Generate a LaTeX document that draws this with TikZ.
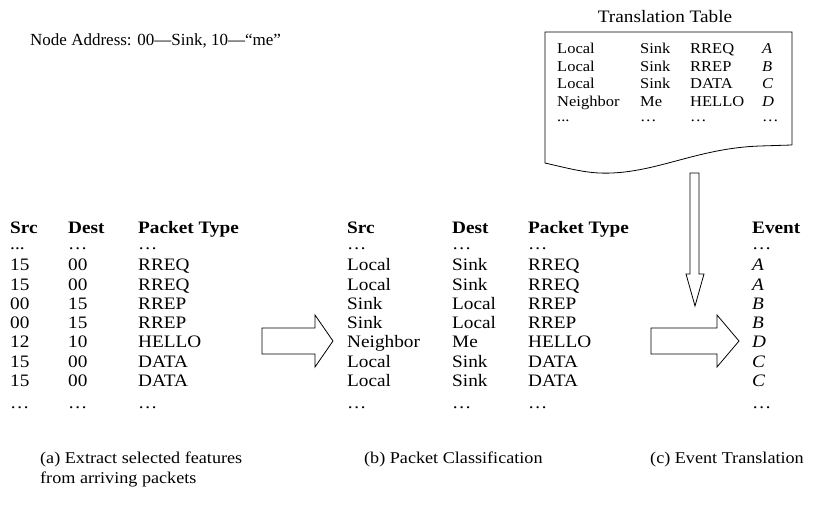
\documentclass[tikz,border=0pt]{standalone}
\usepackage{fontspec}
\setmainfont{Liberation Serif}
\newfontfamily\wideserif[FakeStretch=1.1]{Liberation Serif}
\usetikzlibrary{positioning}
\newcommand\colorFrame{black}
\newcommand\rowDist{19.2}
\newcommand\rowTop{271}
\newcommand\ttRowDist{17.4}
\newcommand\ttRowTop{54}
\tikzset{
	cell/.style={anchor=base west, inner sep=0pt, font=\wideserif\fontsize{17.5}{19}\selectfont},
	head/.style={cell, font=\wideserif\fontsize{17.5}{19}\selectfont\bfseries},
	ttcell/.style={anchor=base west, inner sep=0pt, font=\wideserif\fontsize{15}{17}\selectfont},
	caption/.style={anchor=base west, inner sep=0pt, align=left, font=\wideserif\fontsize{16.5}{20}\selectfont},
	blockarrow/.style={draw=\colorFrame, line width=0.8pt, fill=white, line join=miter}
}

\begin{document}
\begin{tikzpicture}[x=1pt, y=-1pt]
	\useasboundingbox (0,0) rectangle (816,510);

	% header note and translation table
	\node[anchor=base west, inner sep=0pt, font=\fontsize{17}{19}\selectfont] (addr) at (30,46)
		{Node Address: 00—Sink, 10—“me”};
	\node[cell, anchor=base] (tttitle) at (665,23) {Translation Table};
	\draw[color=\colorFrame, line width=0.8pt]
		(792,145) -- (792,32) -- (545,32) -- (545,163)
		.. controls (575,170) and (590,174) .. (612,173)
		.. controls (660,171) and (700,148) .. (760,146) -- (792,145);
	\foreach \src/\dst/\typ/\ev [count=\i from 0] in
		{Local/Sink/RREQ/A, Local/Sink/RREP/B, Local/Sink/DATA/C, Neighbor/Me/HELLO/D}{
		\node[ttcell] (tts\i) at (557,\ttRowTop+\i*\ttRowDist) {\src};
		\node[ttcell] (ttd\i) at (640,\ttRowTop+\i*\ttRowDist) {\dst};
		\node[ttcell] (ttp\i) at (690,\ttRowTop+\i*\ttRowDist) {\typ};
		\node[ttcell] (tte\i) at (762,\ttRowTop+\i*\ttRowDist) {\textit{\ev}};
	}
	\node[ttcell] (tts4) at (557,122) {...};
	\node[ttcell] (ttd4) at (640,122) {…};
	\node[ttcell] (ttp4) at (690,122) {…};
	\node[ttcell] (tte4) at (762,122) {…};

	% (a) raw packets
	\node[head] (srcA) at (10,234) {Src};
	\node[head] (dstA) at (68,234) {Dest};
	\node[head] (typA) at (138,234) {Packet Type};
	\node[cell] (a0) at (10,250) {...};
	\node[cell] at (68,250) {…};
	\node[cell] at (138,250) {…};
	\foreach \src/\dst/\typ [count=\i from 0] in
		{15/00/RREQ, 15/00/RREQ, 00/15/RREP, 00/15/RREP, 12/10/HELLO, 15/00/DATA, 15/00/DATA}{
		\node[cell] (as\i) at (10,\rowTop+\i*\rowDist) {\src};
		\node[cell] (ad\i) at (68,\rowTop+\i*\rowDist) {\dst};
		\node[cell] (ap\i) at (138,\rowTop+\i*\rowDist) {\typ};
	}
	\node[cell] (a8) at (10,408) {…};
	\node[cell] at (68,408) {…};
	\node[cell] at (138,408) {…};

	% (b) classified packets
	\node[head] (srcB) at (347,234) {Src};
	\node[head] (dstB) at (452,234) {Dest};
	\node[head] (typB) at (528,234) {Packet Type};
	\node[cell] (b0) at (347,250) {…};
	\node[cell] at (452,250) {…};
	\node[cell] at (528,250) {…};
	\foreach \src/\dst/\typ [count=\i from 0] in
		{Local/Sink/RREQ, Local/Sink/RREQ, Sink/Local/RREP, Sink/Local/RREP,
		 Neighbor/Me/HELLO, Local/Sink/DATA, Local/Sink/DATA}{
		\node[cell] (bs\i) at (347,\rowTop+\i*\rowDist) {\src};
		\node[cell] (bd\i) at (452,\rowTop+\i*\rowDist) {\dst};
		\node[cell] (bp\i) at (528,\rowTop+\i*\rowDist) {\typ};
	}
	\node[cell] (b8) at (347,408) {…};
	\node[cell] at (452,408) {…};
	\node[cell] at (528,408) {…};

	% (c) events
	\node[head] (evC) at (752,234) {Event};
	\node[cell] (c0) at (752,250) {…};
	\foreach \ev [count=\i from 0] in {A,A,B,B,D,C,C}{
		\node[cell] (ce\i) at (752,\rowTop+\i*\rowDist) {\textit{\ev}};
	}
	\node[cell] (c8) at (752,408) {…};

	% block arrows
	\draw[blockarrow] (262,328) -- (315,328) -- (315,315) -- (333,341)
		-- (315,367) -- (315,354) -- (262,354) -- cycle;
	\draw[blockarrow] (651,328) -- (717,328) -- (717,315) -- (739,341)
		-- (717,367) -- (717,354) -- (651,354) -- cycle;
	\draw[blockarrow] (690,173) -- (699,173) -- (699,274) -- (704,274)
		-- (695,306) -- (686,274) -- (690,274) -- cycle;

	% captions (base = last line)
	\node[caption] (capA) at (40,483) {(a) Extract selected features\\from arriving packets};
	\node[caption] (capB) at (364,463) {(b) Packet Classification};
	\node[caption] (capC) at (650,463) {(c) Event Translation};
\end{tikzpicture}
\end{document}
